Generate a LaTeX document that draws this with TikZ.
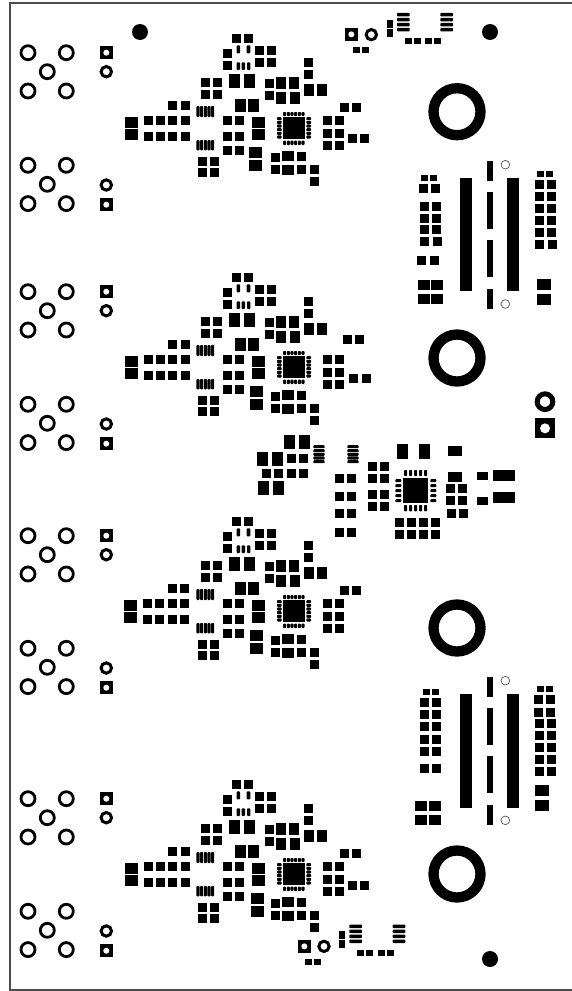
\documentclass[tikz,border=0pt]{standalone}
\tikzset{
  padfill/.style={fill=black},
  strip/.style={fill=black,rounded corners=0.8pt},
  holering/.style={draw=black,line width=2.8pt,fill=white},
  thinring/.style={draw=black!65,line width=0.7pt,fill=white},
  frameline/.style={draw=black!70,line width=1.8pt}
}
\newcommand{\pd}[4]{\fill[padfill] (#1,#2) rectangle (#3,#4);}
\newcommand{\st}[4]{\fill[strip] (#1,#2) rectangle (#3,#4);}
\newcommand{\twin}[6]{\pd{#1}{#5}{#2}{#6}\pd{#3}{#5}{#4}{#6}}
\newcommand{\hstrips}[3]{\foreach \yy in {#3} {\st{#1}{\yy-4.6}{#2}{\yy+4.6}}}
\newcommand{\fatstrips}[3]{\foreach \yy in {#3} {\st{#1}{\yy-5.4}{#2}{\yy+5.4}}}
\newcommand{\vstrips}[3]{\foreach \xx in {#3} {\st{\xx-4.6}{#1}{\xx+4.6}{#2}}}
\newcommand{\pinpair}[2]{%
  \fill[padfill] (#1-6.5,#2-6.5) rectangle (#1+6.5,#2+6.5);
  \fill[white] (#1,#2) circle (3);}
\newcommand{\roundpin}[2]{\draw[black,line width=3pt,fill=white] (#1,#2) circle (5.2);}
\newcommand{\ringcluster}[2]{%
  \foreach \a/\b in {0/0,38.3/0,19.3/19,0/38.3,38.3/38.3}
    {\draw[holering] (#1+\a,#2+\b) circle (7);}}
\newcommand{\module}[1]{%
  \begin{scope}[shift={(0,#1)}]
    \ringcluster{28}{52.7}
    \ringcluster{28}{165.3}
    \pinpair{106.3}{52.7}
    \roundpin{106.3}{71.7}
    \roundpin{106.3}{185}
    \pinpair{106.3}{204.7}
  \end{scope}
  \begin{scope}[shift={(110,20+#1)},scale=1/3]
    \twin{366}{392}{403}{429}{42}{68}
    \pd{339}{87}{366}{114}\pd{339}{123}{366}{150}
    \st{380}{76}{390}{100}\st{410}{76}{421}{100}
    \twin{436}{462}{472}{498}{78}{105}
    \twin{436}{462}{472}{498}{114}{141}
    \st{380}{127}{390}{150}\st{395}{127}{405}{150}\st{411}{127}{421}{150}
    \twin{358}{390}{402}{435}{162}{205}
    \twin{273}{300}{309}{336}{174}{201}
    \twin{273}{300}{309}{336}{210}{237}
    \pd{465}{177}{492}{204}\pd{465}{213}{492}{240}
    \twin{498}{528}{537}{567}{171}{207}
    \twin{498}{528}{540}{570}{216}{252}
    \pd{582}{114}{609}{141}\pd{582}{150}{609}{177}
    \twin{582}{612}{621}{651}{192}{228}
    \twin{375}{408}{414}{447}{237}{276}
    \vstrips{258}{291}{264,275,286,297,308}
    \vstrips{360}{391}{264,275,286,297,308}
    \twin{339}{366}{375}{402}{288}{315}
    \twin{339}{366}{375}{402}{336}{363}
    \twin{339}{366}{375}{402}{378}{405}
    \pd{426}{291}{465}{324}\pd{426}{327}{465}{360}
    \twin{264}{291}{300}{327}{411}{438}
    \twin{264}{291}{300}{327}{444}{471}
    \pd{483}{399}{510}{426}\pd{516}{393}{552}{423}\pd{561}{396}{588}{423}
    \pd{483}{435}{510}{462}\pd{516}{435}{552}{465}\pd{561}{435}{588}{462}
    \pd{600}{435}{627}{462}\pd{600}{471}{627}{498}
    \pd{519}{291}{585}{357}
    \vstrips{276}{288}{524,535,546,557,568,579}
    \vstrips{362}{375}{524,535,546,557,568,579}
    \hstrips{501}{515}{296,307,318,329,340,351}
    \hstrips{589}{603}{296,307,318,329,340,351}
    \twin{639}{666}{675}{702}{288}{315}
    \twin{639}{666}{675}{702}{327}{354}
    \twin{639}{666}{675}{702}{363}{390}
  \end{scope}}
\newcommand{\inmod}[3]{\begin{scope}[shift={(110+#1,20+#2)},scale=1/3] #3 \end{scope}}
\newcommand{\leftrow}[1]{%
  \begin{scope}[shift={(#1,0)}]
    \pd{45}{291}{84}{324}\pd{45}{327}{84}{360}
    \foreach \xx in {102,138,174,213} {\pd{\xx}{288}{\xx+27}{315}\pd{\xx}{336}{\xx+27}{363}}
    \twin{174}{201}{213}{240}{243}{270}
  \end{scope}}
\begin{document}
\begin{tikzpicture}[x=1pt,y=-1pt]
\useasboundingbox (0,0) rectangle (572,991);
\fill[white] (0,0) rectangle (572,991);
\draw[frameline] (572,3.2) -- (10.3,3.2) -- (10.3,989.8) -- (572,989.8);
\module{0}
\module{239}
\module{483}
\module{746}
\inmod{0}{0}{\leftrow{0}\twin{690}{717}{726}{753}{249}{276}\twin{714}{741}{750}{777}{342}{369}\pd{417}{381}{456}{414}\pd{417}{420}{456}{453}}
\inmod{0}{239}{\leftrow{0}\twin{699}{726}{735}{762}{228}{255}\twin{717}{744}{756}{783}{345}{372}\pd{420}{381}{459}{414}\pd{420}{420}{459}{453}}
\inmod{0}{483}{\begin{scope}[shift={(-3,0)}]\pd{45}{291}{84}{324}\pd{45}{327}{84}{360}\end{scope}\foreach \xx in {99,135,174,210} {\pd{\xx}{288}{\xx+27}{315}\pd{\xx}{336}{\xx+27}{363}}\twin{174}{201}{210}{237}{243}{270}\twin{690}{717}{726}{753}{249}{276}\pd{420}{381}{459}{414}\pd{420}{420}{459}{453}}
\inmod{0}{746}{\leftrow{0}\twin{690}{717}{726}{753}{249}{276}\twin{714}{741}{750}{777}{345}{372}\pd{423}{381}{462}{414}\pd{423}{420}{462}{453}}
\fill (140,32) circle (8);
\fill (490,32) circle (8);
\fill (490,959) circle (8);
\foreach \yy in {111.7,358,628,874} {\draw[black,line width=10.3pt,fill=white] (457,\yy) circle (23.5);}
\begin{scope}[shift={(330,0)},scale=1/3]
  \fill (45,84) rectangle (84,123); \fill[white] (64,103) circle (9);
  \draw[black,line width=3pt,fill=white] (124,104) circle (15.5);
  \twin{69}{90}{96}{117}{141}{159}
  \pd{171}{60}{189}{84}\pd{171}{87}{189}{111}
  \fatstrips{201}{239}{44,59,74,89}
  \fatstrips{331}{369}{44,59,74,89}
  \twin{225}{246}{252}{273}{114}{132}
  \twin{285}{306}{312}{333}{114}{132}
\end{scope}
\begin{scope}[shift={(110,775)},scale=1/3]
  \fill (564,495) rectangle (603,534); \fill[white] (583,514) circle (9);
  \draw[black,line width=3pt,fill=white] (642,514) circle (15.5);
  \twin{585}{606}{612}{633}{552}{570}
  \pd{687}{468}{705}{492}\pd{687}{496}{705}{519}
  \fatstrips{718}{756}{454,469,484,499}
  \fatstrips{848}{886}{454,469,484,499}
  \twin{741}{762}{768}{789}{525}{543}
  \twin{804}{825}{831}{852}{525}{543}
\end{scope}
\begin{scope}[shift={(400,150)},scale=1/3]
  \twin{63}{84}{90}{111}{75}{93}
  \twin{57}{84}{93}{120}{102}{129}
  \twin{60}{87}{96}{123}{156}{183}
  \twin{60}{87}{96}{123}{192}{219}
  \twin{60}{87}{96}{123}{225}{252}
  \twin{60}{87}{99}{126}{261}{288}
  \twin{51}{78}{90}{117}{318}{345}
  \twin{54}{90}{93}{129}{390}{420}
  \twin{54}{90}{93}{129}{432}{462}
  \pd{180}{84}{216}{423}\pd{321}{84}{357}{423}
  \pd{261}{33}{279}{93}\pd{261}{126}{279}{237}\pd{261}{270}{279}{381}\pd{261}{417}{279}{477}
  \twin{411}{432}{438}{459}{63}{81}
  \foreach \yy in {90,126,162,198,234} {\twin{405}{432}{441}{468}{\yy}{\yy+27}}
  \twin{405}{432}{444}{471}{270}{297}
  \pd{411}{387}{453}{420}\pd{411}{432}{453}{465}
  \draw[thinring] (316,44) circle (13);
  \draw[thinring] (316,462) circle (13);
\end{scope}
\begin{scope}[shift={(400,670)},scale=1/3]
  \twin{69}{90}{96}{117}{57}{75}
  \foreach \yy in {84,120,156,195,231,282} {\twin{60}{87}{96}{123}{\yy}{\yy+27}}
  \twin{45}{81}{87}{123}{393}{423}
  \twin{45}{81}{87}{123}{435}{465}
  \pd{180}{72}{216}{414}\pd{321}{72}{357}{414}
  \pd{261}{21}{279}{81}\pd{261}{114}{279}{225}\pd{261}{258}{279}{369}\pd{261}{405}{279}{465}
  \twin{411}{432}{438}{459}{48}{66}
  \twin{402}{429}{438}{465}{75}{102}
  \twin{402}{429}{438}{465}{114}{141}
  \foreach \yy in {147,183,219,255,291} {\twin{405}{432}{441}{468}{\yy}{\yy+27}}
  \pd{405}{345}{447}{378}\pd{405}{390}{447}{423}
  \draw[thinring] (316,32) circle (13);
  \draw[thinring] (316,451) circle (13);
\end{scope}
\begin{scope}[shift={(250,390)},scale=1/3]
  \draw[black,line width=5pt,fill=white] (885,35) circle (23.5);
  \fill (855,85) rectangle (915,145); \fill[white] (885,115) circle (15);
  \twin{102}{135}{147}{180}{135}{177}
  \twin{21}{54}{66}{99}{186}{228}
  \twin{111}{138}{147}{174}{192}{219}
  \twin{36}{63}{72}{99}{237}{264}
  \twin{111}{138}{147}{174}{237}{264}
  \twin{24}{57}{69}{102}{273}{315}
  \hstrips{190}{224}{170,182,193,204,215}
  \hstrips{292}{326}{170,182,193,204,215}
  \twin{255}{282}{291}{318}{252}{279}
  \twin{255}{282}{291}{318}{306}{333}
  \twin{255}{282}{291}{318}{357}{384}
  \twin{255}{282}{291}{318}{414}{441}
  \twin{354}{381}{390}{417}{216}{243}
  \twin{354}{381}{390}{417}{252}{279}
  \twin{354}{381}{390}{417}{300}{327}
  \twin{354}{381}{390}{417}{336}{363}
  \twin{441}{474}{507}{540}{162}{207}
  \pd{594}{168}{636}{198}\pd{594}{246}{636}{276}
  \pd{459}{264}{535}{340}
  \vstrips{240}{258}{467,482,497,512,527}
  \vstrips{345}{364}{467,482,497,512,527}
  \hstrips{436}{454}{272,287,302,317,332}
  \hstrips{541}{559}{272,287,302,317,332}
  \foreach \xx in {435,471,507,543} {\pd{\xx}{384}{\xx+27}{411}\pd{\xx}{420}{\xx+27}{447}}
  \twin{588}{615}{624}{651}{282}{309}
  \twin{588}{615}{624}{651}{318}{345}
  \twin{591}{618}{627}{654}{357}{384}
  \pd{681}{246}{714}{270}\pd{681}{321}{714}{345}
  \pd{729}{240}{795}{273}\pd{729}{306}{795}{339}
\end{scope}
\end{tikzpicture}
\end{document}
